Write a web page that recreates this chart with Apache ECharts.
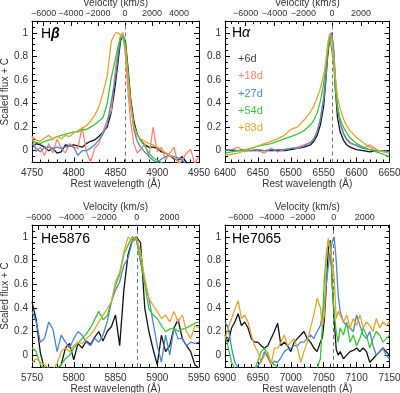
<!DOCTYPE html>
<html><head><meta charset="utf-8">
<script src="https://cdn.jsdelivr.net/npm/echarts@6/dist/echarts.min.js"></script>
<style>html,body{margin:0;padding:0;background:#fff}#c{width:400px;height:393px}</style>
</head><body><div id="c"></div>
<script>
// ---------- labels / ticks ----------
const SERIES_NAMES = ['+6d', '+18d', '+27d', '+54d', '+83d'];
const VEL_LABELS = [-6000, -4000, -2000, 0, 2000, 4000];
const FLUX_LABELS = [0, 0.2, 0.4, 0.6, 0.8, 1];
const PANEL_NAMES = ['Hβ', 'Hα', 'He5876', 'He7065'];
const REST_WL = [4861.3, 6562.8, 5875.6, 7065.2];
const WL_RANGES = [[4750, 4950], [6400, 6650], [5750, 5950], [6900, 7150]];

// ---------- H beta ----------
const HB_WL = [4750,4755,4760,4765,4770,4775,4780,4785,4790,4795,4800,4805,4810,4815,4820,4825,4830,4835,4840,4845,4850,
  4853,4856,4859,4862,4865,4868,4872,4876,
  4880,4885,4890,4895,4900,4905,4910,4915,4920,4925,4930,4935,4940,4945,4950];
const HB_6D = [.03,.06,.05,.03,.0,.02,-.02,-.01,.05,.04,.05,.04,.03,.06,.08,.09,.12,.16,.2,.33,.57,
  .75,.93,.98,.92,.7,.45,.25,.14,
  .09,.05,.03,.03,.02,-.01,-.02,-.04,-.07,-.08,-.05,-.1,-.13,null,null];
const HB_18D = [.12,-.01,.03,-.04,.06,-.02,.1,.02,-.02,.06,.03,.02,.2,.0,-.1,.02,.06,.16,.26,.34,.7,
  .85,.98,1.0,.8,.5,.25,.06,-.02,
  .01,.06,-.05,.2,-.01,.03,-.08,-.02,.03,-.11,-.08,-.02,.01,-.11,-.05];
const HB_27D = [.06,.02,-.01,.03,.03,.02,.03,.02,.03,.04,.03,-.04,.0,.0,.02,.05,.09,.14,.22,.42,.62,
  .8,.95,.98,.9,.65,.4,.18,.08,
  .03,-.01,-.05,-.08,-.1,-.07,-.05,-.04,-.05,-.06,-.08,-.12,null,null,null];
const HB_54D = [.08,.07,.06,.08,.09,.1,.12,.13,.14,.15,.16,.16,.18,.18,.2,.22,.25,.28,.4,.62,.78,
  .88,.96,.98,.9,.65,.42,.22,.14,
  .09,.04,-.02,-.06,-.08,-.1,-.12,null,null,null,null,null,null,null,null];
const HB_83D = [.12,.09,.08,.11,.13,.1,.12,.1,.13,.12,.15,.17,.19,.21,.25,.3,.37,.49,.63,.93,1.0,
  1.0,.98,.95,.85,.62,.4,.2,.13,
  .1,.08,.06,.05,.03,.01,-.02,-.04,-.06,-.09,-.12,-.15,null,null,null];

// ---------- H alpha ----------
const HA_WL = [6400,6410,6420,6430,6440,6450,6460,6470,6480,6490,6500,6510,6520,6530,
  6535,6540,6545,6550,6553,6556,6559,6562,6565,6568,6571,6575,6580,6585,6590,
  6600,6610,6620,6630,6640,6650];
const HA_6D = [.01,.0,.0,.0,.0,.0,.0,.0,.0,.0,.01,.02,.03,.05,
  .08,.13,.22,.38,.58,.8,.95,1.0,.85,.5,.28,.16,.09,.05,.03,
  .01,.0,-.01,.0,.0,.0];
const HA_18D = [.0,.01,.03,-.01,.02,.0,-.02,.02,-.01,.01,.02,.03,.05,.07,
  .1,.16,.27,.45,.63,.85,.97,.99,.85,.58,.36,.22,.14,.09,.06,
  .05,.02,.05,.01,null,null];
const HA_27D = [.0,.01,.0,.01,.0,.01,.0,.01,.01,.01,.02,.02,.04,.07,
  .1,.16,.27,.44,.62,.84,.97,1.0,.88,.6,.38,.24,.15,.1,.07,
  .04,.02,.01,.0,.0,-.01];
const HA_54D = [-.02,-.01,.0,.01,.02,.04,.05,.06,.08,.1,.12,.14,.17,.22,
  .26,.32,.42,.57,.7,.86,.97,.98,.75,.5,.36,.27,.2,.15,.11,
  .06,.03,.01,-.01,-.03,-.05];
const HA_83D = [-.04,-.03,-.02,.0,.02,.04,.06,.08,.1,.13,.18,.2,.26,.33,
  .38,.45,.53,.64,.75,.9,.99,.96,.8,.6,.45,.36,.27,.21,.17,
  .11,.07,.03,.01,-.01,-.02];

// ---------- He 5876 ----------
const HE5_WL = [5750,5755,5760,5765,5770,5775,5780,5785,5790,5795,5800,5805,5810,5815,5820,5825,5830,5835,5840,5845,
  5850,5855,5860,5865,5870,5875,5880,5885,5890,5895,5900,5905,5910,5915,5920,5925,5930,5935,5940,5945,5950];
const HE5_6D = [.45,.3,.02,-.12,-.15,-.15,-.12,-.08,.06,.1,-.04,.1,.06,.12,.09,.15,.2,.12,.2,.24,
  .34,.08,.55,.85,.97,1.0,.95,.4,.2,.05,-.08,.17,.03,.08,.23,.3,.14,.08,.03,-.08,-.11];
const HE5_27D = [.37,.28,.11,.14,.28,.22,.03,.17,.11,.06,.14,.2,.17,.11,.08,.14,.11,.17,.28,.45,
  .55,.62,.76,.82,.96,.98,.79,.62,.48,.28,.08,-.06,.17,.0,.23,.14,.14,.08,.11,.1,.11];
const HE5_54D = [.06,.03,-.08,-.11,-.13,-.13,-.11,-.08,-.03,.0,.06,.1,.14,.18,.23,.3,.37,.3,.33,.45,
  .59,.68,.85,.93,1.0,.98,.8,.6,.39,.34,.31,.25,.2,.22,.23,.2,.22,.23,.25,.27,.28];
const HE5_83D = [-.06,-.03,-.06,-.08,-.11,-.12,-.07,.03,.06,.03,.08,.11,.1,.14,.17,.22,.28,.34,.39,.45,
  .62,.7,.87,1.0,.96,1.0,.87,.65,.48,.42,.37,.31,.34,.28,.37,.28,.34,.2,.14,.25,.23];

// ---------- He 7065 ----------
const HE7_WL = [6900,6905,6910,6915,6920,6925,6930,6935,6940,6945,6950,6955,6960,6965,6970,6975,6980,6985,6990,6995,
  7000,7005,7010,7015,7020,7025,7030,7035,7040,7045,
  7048,7051,7054,7057,7060,7063,7066,7069,7072,
  7075,7080,7085,7090,7095,7100,7105,7110,7115,7120,7125,7130,7135,7140,7145,7150];
const HE7_6D = [.17,.11,.23,.28,.35,.25,.28,.23,.14,.11,.11,.08,.06,.08,.14,.2,.27,.08,.11,.08,
  .03,.11,.14,.17,.2,.14,.11,.06,.03,.11,
  .15,.3,.6,.9,.97,.6,.3,.05,.0,
  .03,-.03,.0,.03,.04,.06,.03,.06,.03,-.06,-.03,.0,.03,.06,.03,.0];
const HE7_27D = [.28,.23,.06,-.06,-.11,-.15,-.15,-.15,-.14,-.12,-.09,-.05,.03,-.02,-.08,-.05,-.06,-.02,.03,.05,
  .06,.08,.08,.11,.11,.14,.17,.14,.2,.25,
  .35,.45,.6,.75,.88,.96,1.0,.8,.51,
  .37,.28,.25,.23,.2,.34,.25,.17,.14,.2,.08,.0,.03,.06,.0,-.03];
const HE7_54D = [.17,.06,-.06,-.11,-.13,-.14,-.14,-.13,-.14,-.12,-.05,.03,.06,.0,-.06,-.08,-.1,-.12,-.14,-.15,
  -.15,-.15,-.15,-.13,-.12,-.1,-.12,-.13,-.11,-.03,
  .25,.65,.85,.97,.95,.6,.35,.2,.11,
  .23,.17,.28,.11,.17,.08,.14,.23,.17,.06,.14,.2,.17,.11,.14,.17];
const HE7_83D = [.14,.23,.31,.39,.46,.31,.34,.28,.17,.08,.03,-.06,.0,.03,-.08,.06,.06,.11,.17,.08,
  .11,.14,.06,-.06,.03,.11,.23,.34,.48,.4,
  .25,.34,.79,.99,1.0,.79,.65,.31,.37,
  .37,.28,.34,.23,.31,.25,.34,.23,.28,.25,.2,.31,.23,.28,.25,.28];

// ---------- assembly ----------
const PANEL_WL = [HB_WL, HA_WL, HE5_WL, HE7_WL];
const PANEL_SERIES = [
  [HB_6D, HB_18D, HB_27D, HB_54D, HB_83D],
  [HA_6D, HA_18D, HA_27D, HA_54D, HA_83D],
  [HE5_6D, null, HE5_27D, HE5_54D, HE5_83D],
  [HE7_6D, null, HE7_27D, HE7_54D, HE7_83D]
];

const C_KMS = 299792.458;
const FONT = '"Liberation Sans", Arial, Helvetica, sans-serif';
const TXT = '#333';
const COLORS = ['#111111', '#ff8479', '#4a86c8', '#36c636', '#e2a42e'];
const LEGEND_COLORS = ['#444444', '#ff8479', '#4a86c8', '#36c636', '#e2a42e'];
const GRIDS = [
  {left: 32, top: 21, width: 167, height: 141.5},
  {left: 225, top: 21, width: 164.5, height: 141.5},
  {left: 32, top: 225, width: 167, height: 142},
  {left: 225, top: 225, width: 164.5, height: 142}
];

function fluxMinor() { const a = []; for (let k = -2; k <= 22; k++) a.push(+(k * 0.05).toFixed(2)); return a; }
const FLUX_MINOR = fluxMinor();

const grid = [], xAxis = [], yAxis = [], series = [], graphic = [];
const axisLine = {show: true, onZero: false, lineStyle: {color: '#000', width: 1}};
const noLine = {show: false, onZero: false};
const tickLine = {color: '#000', width: 1};
const lblStyle = {color: TXT, fontSize: 10, fontFamily: FONT};
const nameStyle = {color: TXT, fontSize: 10, fontFamily: FONT};

GRIDS.forEach((g, i) => {
  grid.push(Object.assign({outerBoundsMode: 'none', containLabel: false}, g));
  const [x0, x1] = WL_RANGES[i];
  const rest = REST_WL[i];
  const v0 = (x0 - rest) / rest * C_KMS, v1 = (x1 - rest) / rest * C_KMS;
  const vMaj = VEL_LABELS.filter(v => v >= v0 && v <= v1);
  const vMin = [];
  for (let v = -8000; v <= 8000; v += 500) if (v >= v0 && v <= v1) vMin.push(v);

  xAxis.push({gridIndex: i, type: 'value', position: 'bottom', min: x0, max: x1, interval: 50,
    axisLine, axisTick: {show: true, inside: true, length: 5, lineStyle: tickLine},
    minorTick: {show: true, splitNumber: 5, length: 3, lineStyle: tickLine},
    axisLabel: Object.assign({show: true, margin: 6, showMinLabel: true, showMaxLabel: true,
      formatter: v => String(Math.round(v))}, lblStyle),
    splitLine: {show: false}, minorSplitLine: {show: false},
    name: 'Rest wavelength (Å)', nameLocation: 'middle', nameGap: 17, nameTextStyle: nameStyle});
  xAxis.push({gridIndex: i, type: 'value', position: 'top', min: v0, max: v1,
    axisLine, axisTick: {show: true, inside: true, length: 5, lineStyle: tickLine, customValues: vMaj},
    axisLabel: Object.assign({}, lblStyle, {show: true, margin: 3, customValues: vMaj, fontSize: 9,
      showMinLabel: true, showMaxLabel: true, hideOverlap: false,
      formatter: v => String(Math.round(v)).replace('-', '−')}),
    splitLine: {show: false},
    name: 'Velocity (km/s)', nameLocation: 'middle', nameGap: 9, nameTextStyle: nameStyle});
  xAxis.push({gridIndex: i, type: 'value', position: 'top', min: v0, max: v1,
    axisLine: noLine, axisTick: {show: true, inside: true, length: 3, lineStyle: tickLine, customValues: vMin},
    axisLabel: {show: false}, splitLine: {show: false}});

  const yBase = {gridIndex: i, type: 'value', min: -0.1, max: 1.1, splitLine: {show: false}};
  yAxis.push(Object.assign({}, yBase, {position: 'left', axisLine,
    axisTick: {show: true, inside: true, length: 5, lineStyle: tickLine, customValues: FLUX_LABELS},
    axisLabel: Object.assign({show: true, margin: 4, customValues: FLUX_LABELS,
      showMinLabel: true, showMaxLabel: true,
      formatter: v => String(+(+v).toFixed(2))}, lblStyle),
    name: (i % 2 === 0) ? 'Scaled flux + C' : '', nameLocation: 'middle', nameGap: 17, nameRotate: 90,
    nameTextStyle: nameStyle}));
  yAxis.push(Object.assign({}, yBase, {position: 'left', axisLine: noLine,
    axisTick: {show: true, inside: true, length: 3, lineStyle: tickLine, customValues: FLUX_MINOR},
    axisLabel: {show: false}}));
  yAxis.push(Object.assign({}, yBase, {position: 'right', axisLine,
    axisTick: {show: true, inside: true, length: 5, lineStyle: tickLine, customValues: FLUX_LABELS},
    axisLabel: {show: false}}));
  yAxis.push(Object.assign({}, yBase, {position: 'right', axisLine: noLine,
    axisTick: {show: true, inside: true, length: 3, lineStyle: tickLine, customValues: FLUX_MINOR},
    axisLabel: {show: false}}));

  const wl = PANEL_WL[i];
  let first = true;
  PANEL_SERIES[i].forEach((vals, k) => {
    if (!vals) return;
    const s = {type: 'line', name: SERIES_NAMES[k], xAxisIndex: 3 * i, yAxisIndex: 4 * i,
      data: wl.map((w, j) => [w, vals[j]]), showSymbol: false, symbol: 'none', clip: true,
      lineStyle: {color: COLORS[k], width: 1.3}, itemStyle: {color: COLORS[k]}, z: 2 + k};
    if (first) {
      s.markLine = {silent: true, symbol: ['none', 'none'], label: {show: false},
        lineStyle: {color: '#777', type: [4, 3], width: 1}, data: [{xAxis: rest}], z: 1};
      first = false;
    }
    series.push(s);
  });
});

const titlePos = [[41, 34], [232, 33], [41, 239], [232, 239]];
const greekStyle = [
  {fontSize: 14, fontStyle: 'italic', fontWeight: 'bold', fontFamily: FONT, fill: '#000'},
  {fontSize: 14, fontStyle: 'italic', fontFamily: FONT, fill: '#000'}
];
PANEL_NAMES.forEach((t, i) => {
  let text, rich;
  if (i < 2) {
    text = '{h|H}{g|' + t.slice(1) + '}';
    rich = {h: {fontSize: 14, fontFamily: FONT, fill: '#000'}, g: greekStyle[i]};
  } else {
    text = t; rich = undefined;
  }
  graphic.push({type: 'text', x: titlePos[i][0], y: titlePos[i][1], silent: true,
    style: {text, rich, fontSize: 14, fontFamily: FONT, fill: '#000', verticalAlign: 'middle'}});
});

const chart = echarts.init(document.getElementById('c'), null, {renderer: 'canvas'});
chart.setOption({
  animation: false,
  backgroundColor: '#fff',
  grid, xAxis, yAxis, series, graphic,
  legend: {orient: 'vertical', left: 233, top: 53, icon: 'none', itemWidth: 0, itemHeight: 12, itemGap: 5.3,
    selectedMode: false, padding: 0,
    textStyle: {fontSize: 11, fontFamily: FONT, lineHeight: 12},
    data: SERIES_NAMES.map((n, k) => ({name: n, textStyle: {color: LEGEND_COLORS[k]}}))}
});
</script></body></html>
